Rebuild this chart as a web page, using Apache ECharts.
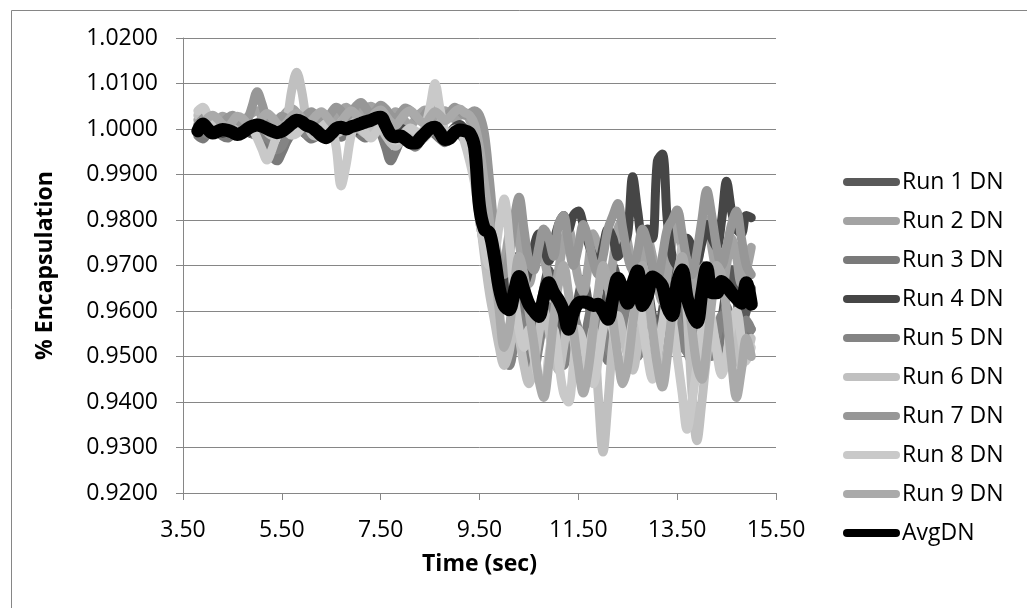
<!DOCTYPE html>
<html><head><meta charset="utf-8">
<script src="https://cdn.jsdelivr.net/npm/echarts@6/dist/echarts.min.js"></script>
<style>html,body{margin:0;padding:0;background:#fff}#c{width:1027px;height:608px}</style>
</head><body><div id="c"></div>
<script>
const times = [
3.8,3.9,4.0,4.1,4.2,4.3,4.4,4.5,4.6,4.7,
4.8,4.9,5.0,5.1,5.2,5.3,5.4,5.5,5.6,5.7,
5.8,5.9,6.0,6.1,6.2,6.3,6.4,6.5,6.6,6.7,
6.8,6.9,7.0,7.1,7.2,7.3,7.4,7.5,7.6,7.7,
7.8,7.9,8.0,8.1,8.2,8.3,8.4,8.5,8.6,8.7,
8.8,8.9,9.0,9.1,9.2,9.3,9.4,9.5,9.6,9.7,
9.8,9.9,10.0,10.1,10.2,10.3,10.4,10.5,10.6,10.7,
10.8,10.9,11.0,11.1,11.2,11.3,11.4,11.5,11.6,11.7,
11.8,11.9,12.0,12.1,12.2,12.3,12.4,12.5,12.6,12.7,
12.8,12.9,13.0,13.1,13.2,13.3,13.4,13.5,13.6,13.7,
13.8,13.9,14.0,14.1,14.2,14.3,14.4,14.5,14.6,14.7,
14.8,14.9,15.0];

const run1 = [
0.9990,0.9985,0.9995,1.0002,0.9998,0.9992,0.9988,0.9996,1.0004,1.0001,
0.9994,0.9989,0.9997,1.0006,1.0010,1.0003,0.9996,0.9990,0.9998,1.0008,
1.0014,1.0010,1.0001,0.9994,0.9990,0.9986,0.9994,1.0004,1.0009,1.0002,
0.9995,1.0001,1.0011,1.0006,0.9998,1.0007,1.0018,1.0022,1.0004,0.9990,
0.9984,0.9992,0.9986,0.9976,0.9968,0.9979,0.9993,1.0006,1.0012,0.9999,
0.9985,0.9979,0.9990,1.0002,0.9998,0.9990,0.9940,0.9850,0.9760,0.9700,
0.9640,0.9580,0.9530,0.9560,0.9620,0.9660,0.9620,0.9570,0.9540,0.9590,
0.9650,0.9690,0.9640,0.9580,0.9530,0.9500,0.9560,0.9630,0.9670,0.9620,
0.9570,0.9540,0.9590,0.9650,0.9700,0.9660,0.9600,0.9560,0.9610,0.9680,
0.9720,0.9660,0.9590,0.9550,0.9600,0.9670,0.9710,0.9650,0.9580,0.9540,
0.9600,0.9660,0.9700,0.9640,0.9570,0.9530,0.9580,0.9650,0.9690,0.9630,
0.9570,0.9600,0.9650];

const run2 = [
1.0020,1.0032,1.0025,1.0012,1.0018,1.0028,1.0022,1.0010,1.0004,1.0015,
1.0026,1.0035,1.0040,1.0028,1.0015,1.0006,1.0012,1.0024,1.0038,1.0045,
1.0036,1.0022,1.0014,1.0020,1.0030,1.0024,1.0010,1.0018,1.0032,1.0040,
1.0048,1.0038,1.0026,1.0034,1.0045,1.0050,1.0042,1.0030,1.0018,1.0026,
1.0038,1.0030,1.0016,1.0008,1.0020,1.0034,1.0042,1.0032,1.0020,1.0028,
1.0040,1.0032,1.0022,1.0030,1.0036,1.0020,0.9990,0.9920,0.9830,0.9760,
0.9700,0.9660,0.9700,0.9770,0.9800,0.9750,0.9690,0.9660,0.9710,0.9760,
0.9720,0.9670,0.9640,0.9690,0.9750,0.9780,0.9730,0.9670,0.9640,0.9700,
0.9770,0.9740,0.9680,0.9650,0.9710,0.9780,0.9800,0.9750,0.9690,0.9650,
0.9700,0.9760,0.9720,0.9660,0.9620,0.9680,0.9750,0.9790,0.9740,0.9670,
0.9630,0.9690,0.9760,0.9800,0.9740,0.9680,0.9640,0.9700,0.9760,0.9720,
0.9660,0.9690,0.9740];

const run3 = [
0.9985,0.9978,0.9990,1.0000,0.9994,0.9984,0.9980,0.9988,0.9998,1.0006,
1.0000,0.9990,0.9984,0.9978,0.9960,0.9940,0.9930,0.9948,0.9972,0.9990,
1.0002,0.9996,0.9986,0.9978,0.9984,0.9996,1.0008,1.0000,0.9990,0.9982,
0.9990,1.0002,0.9996,0.9986,0.9980,0.9992,1.0004,0.9990,0.9960,0.9930,
0.9950,0.9974,0.9984,0.9976,0.9966,0.9972,0.9986,0.9996,0.9988,0.9978,
0.9970,0.9980,0.9994,0.9988,0.9976,0.9960,0.9900,0.9800,0.9740,0.9690,
0.9620,0.9540,0.9490,0.9510,0.9580,0.9620,0.9570,0.9510,0.9490,0.9540,
0.9600,0.9560,0.9500,0.9470,0.9530,0.9590,0.9550,0.9500,0.9520,0.9580,
0.9620,0.9570,0.9520,0.9490,0.9540,0.9600,0.9630,0.9580,0.9520,0.9500,
0.9550,0.9610,0.9580,0.9520,0.9490,0.9540,0.9600,0.9620,0.9560,0.9510,
0.9490,0.9550,0.9610,0.9580,0.9520,0.9500,0.9560,0.9610,0.9570,0.9510,
0.9500,0.9540,0.9560];

const run4 = [
0.9992,1.0002,1.0010,1.0004,0.9996,0.9990,0.9996,1.0006,1.0012,1.0006,
0.9998,0.9992,1.0000,1.0008,1.0004,0.9996,0.9990,0.9998,1.0010,1.0016,
1.0010,1.0002,0.9996,1.0002,1.0010,1.0004,0.9994,0.9988,0.9996,1.0006,
1.0012,1.0004,0.9996,1.0004,1.0014,1.0020,1.0012,1.0002,0.9994,0.9986,
0.9992,1.0002,0.9996,0.9984,0.9978,0.9986,0.9998,1.0008,1.0002,0.9990,
0.9984,0.9992,1.0004,1.0010,1.0000,0.9990,0.9950,0.9880,0.9800,0.9740,
0.9700,0.9660,0.9640,0.9680,0.9720,0.9700,0.9660,0.9690,0.9740,0.9770,
0.9740,0.9710,0.9750,0.9790,0.9810,0.9780,0.9810,0.9820,0.9790,0.9750,
0.9720,0.9700,0.9740,0.9780,0.9760,0.9720,0.9740,0.9770,0.9895,0.9820,
0.9760,0.9780,0.9760,0.9930,0.9945,0.9800,0.9720,0.9700,0.9730,0.9760,
0.9740,0.9710,0.9750,0.9790,0.9760,0.9740,0.9800,0.9885,0.9820,0.9780,
0.9770,0.9810,0.9805];

const run5 = [
1.0004,0.9996,0.9988,0.9994,1.0004,1.0010,1.0002,0.9994,0.9990,0.9998,
1.0008,1.0004,0.9994,0.9986,0.9980,0.9970,0.9955,0.9962,0.9985,1.0000,
1.0006,0.9996,0.9988,0.9994,1.0004,1.0012,1.0004,0.9994,0.9988,0.9996,
1.0006,1.0014,1.0006,0.9996,1.0004,1.0014,1.0010,0.9998,0.9984,0.9976,
0.9982,0.9990,0.9982,0.9968,0.9960,0.9972,0.9988,0.9998,0.9992,0.9982,
0.9976,0.9986,0.9998,0.9992,0.9984,0.9970,0.9920,0.9830,0.9760,0.9700,
0.9630,0.9560,0.9500,0.9480,0.9530,0.9590,0.9560,0.9500,0.9470,0.9520,
0.9580,0.9610,0.9560,0.9510,0.9480,0.9530,0.9590,0.9560,0.9510,0.9490,
0.9540,0.9600,0.9570,0.9520,0.9500,0.9550,0.9610,0.9580,0.9530,0.9500,
0.9550,0.9600,0.9570,0.9520,0.9490,0.9540,0.9600,0.9580,0.9530,0.9510,
0.9560,0.9610,0.9580,0.9530,0.9500,0.9540,0.9590,0.9560,0.9520,0.9500,
0.9540,0.9580,0.9560];

const run6 = [
1.0030,1.0040,1.0022,1.0006,0.9996,1.0004,1.0016,1.0010,0.9998,0.9990,
0.9996,1.0008,1.0014,1.0006,0.9994,0.9986,0.9990,1.0002,1.0020,1.0085,
1.0125,1.0085,1.0020,0.9990,0.9984,0.9996,1.0008,1.0000,0.9990,0.9996,
1.0008,1.0016,1.0008,0.9998,0.9990,0.9996,1.0008,1.0002,0.9986,0.9970,
0.9962,0.9974,0.9988,0.9994,0.9986,0.9976,0.9982,0.9994,1.0002,0.9994,
0.9986,0.9990,1.0000,0.9994,0.9980,0.9960,0.9900,0.9810,0.9720,0.9640,
0.9580,0.9520,0.9480,0.9510,0.9570,0.9540,0.9480,0.9440,0.9480,0.9550,
0.9600,0.9560,0.9500,0.9470,0.9520,0.9580,0.9540,0.9480,0.9450,0.9500,
0.9560,0.9420,0.9290,0.9400,0.9530,0.9590,0.9550,0.9500,0.9470,0.9520,
0.9580,0.9610,0.9560,0.9500,0.9460,0.9510,0.9570,0.9620,0.9740,0.9600,
0.9420,0.9315,0.9400,0.9500,0.9560,0.9520,0.9470,0.9500,0.9560,0.9530,
0.9480,0.9500,0.9540];

const run7 = [
1.0010,1.0022,1.0030,1.0020,1.0008,1.0014,1.0024,1.0030,1.0020,1.0012,
1.0020,1.0050,1.0082,1.0055,1.0020,1.0006,1.0016,1.0028,1.0022,1.0010,
1.0004,1.0016,1.0030,1.0038,1.0028,1.0016,1.0022,1.0036,1.0048,1.0040,
1.0026,1.0036,1.0050,1.0058,1.0046,1.0032,1.0040,1.0052,1.0044,1.0030,
1.0022,1.0034,1.0046,1.0040,1.0028,1.0020,1.0032,1.0046,1.0050,1.0038,
1.0028,1.0036,1.0048,1.0040,1.0030,1.0034,1.0040,1.0030,0.9990,0.9890,
0.9780,0.9700,0.9680,0.9720,0.9800,0.9850,0.9780,0.9710,0.9690,0.9740,
0.9780,0.9760,0.9720,0.9790,0.9810,0.9750,0.9700,0.9740,0.9790,0.9760,
0.9710,0.9680,0.9720,0.9780,0.9810,0.9836,0.9780,0.9720,0.9690,0.9730,
0.9780,0.9750,0.9700,0.9670,0.9720,0.9780,0.9800,0.9822,0.9770,0.9710,
0.9680,0.9730,0.9800,0.9865,0.9810,0.9740,0.9700,0.9740,0.9790,0.9820,
0.9760,0.9700,0.9680];

const run8 = [
1.0040,1.0048,1.0030,1.0010,1.0000,1.0008,1.0002,0.9992,0.9986,0.9994,
1.0004,1.0000,0.9980,0.9955,0.9932,0.9955,0.9985,1.0000,0.9994,0.9986,
0.9990,1.0002,1.0010,1.0004,0.9996,1.0004,1.0012,1.0004,0.9960,0.9875,
0.9920,0.9985,1.0010,1.0002,0.9990,0.9980,0.9992,1.0004,0.9996,0.9982,
0.9974,0.9982,0.9994,1.0002,0.9996,0.9990,1.0006,1.0050,1.0100,1.0045,
0.9996,0.9984,0.9990,1.0000,0.9970,0.9930,0.9880,0.9800,0.9740,0.9700,
0.9720,0.9790,0.9846,0.9760,0.9640,0.9560,0.9520,0.9560,0.9500,0.9450,
0.9430,0.9500,0.9560,0.9490,0.9420,0.9400,0.9480,0.9560,0.9530,0.9470,
0.9440,0.9490,0.9560,0.9600,0.9560,0.9500,0.9460,0.9510,0.9580,0.9620,
0.9570,0.9500,0.9450,0.9500,0.9570,0.9620,0.9580,0.9500,0.9420,0.9340,
0.9400,0.9480,0.9560,0.9620,0.9580,0.9510,0.9460,0.9500,0.9570,0.9600,
0.9540,0.9490,0.9520];

const run9 = [
1.0000,1.0012,1.0024,1.0030,1.0022,1.0010,1.0004,1.0016,1.0028,1.0024,
1.0012,1.0002,1.0010,1.0024,1.0034,1.0026,1.0012,1.0004,1.0014,1.0028,
1.0034,1.0024,1.0012,1.0018,1.0030,1.0038,1.0028,1.0014,1.0006,1.0016,
1.0030,1.0040,1.0032,1.0018,1.0010,1.0022,1.0036,1.0042,1.0030,1.0016,
1.0008,1.0020,1.0034,1.0040,1.0030,1.0018,1.0012,1.0026,1.0038,1.0030,
1.0018,1.0026,1.0038,1.0044,1.0036,1.0030,1.0010,0.9960,0.9880,0.9800,
0.9700,0.9600,0.9520,0.9560,0.9650,0.9720,0.9680,0.9600,0.9530,0.9450,
0.9410,0.9480,0.9580,0.9660,0.9700,0.9640,0.9560,0.9480,0.9420,0.9470,
0.9560,0.9640,0.9700,0.9660,0.9580,0.9500,0.9440,0.9480,0.9570,0.9650,
0.9700,0.9650,0.9560,0.9480,0.9433,0.9500,0.9600,0.9680,0.9720,0.9650,
0.9560,0.9480,0.9450,0.9520,0.9620,0.9700,0.9680,0.9600,0.9490,0.9410,
0.9470,0.9540,0.9500];

const avgDN = [
0.9996,1.0011,1.0000,0.9991,0.9995,0.9999,0.9997,0.9993,0.9988,0.9992,
1.0000,1.0006,1.0009,1.0006,1.0001,0.9996,0.9992,0.9995,1.0003,1.0012,
1.0019,1.0016,1.0008,1.0004,0.9996,0.9986,0.9981,0.9990,1.0001,1.0004,
1.0000,1.0005,1.0008,1.0012,1.0016,1.0019,1.0024,1.0026,1.0008,0.9988,
0.9983,0.9985,0.9978,0.9970,0.9969,0.9980,0.9991,1.0001,1.0004,0.9992,
0.9977,0.9980,0.9992,0.9998,0.9996,0.9991,0.9960,0.9830,0.9780,0.9772,
0.9720,0.9650,0.9612,0.9603,0.9640,0.9676,0.9645,0.9615,0.9600,0.9588,
0.9630,0.9662,0.9640,0.9624,0.9600,0.9560,0.9598,0.9617,0.9620,0.9618,
0.9612,0.9615,0.9600,0.9582,0.9630,0.9672,0.9645,0.9617,0.9660,0.9688,
0.9612,0.9635,0.9675,0.9668,0.9655,0.9610,0.9590,0.9660,0.9690,0.9630,
0.9595,0.9575,0.9640,0.9695,0.9640,0.9640,0.9665,0.9655,0.9640,0.9628,
0.9617,0.9662,0.9615];

const seriesNames = ['Run 1 DN','Run 2 DN','Run 3 DN','Run 4 DN','Run 5 DN','Run 6 DN','Run 7 DN','Run 8 DN','Run 9 DN','AvgDN'];
const seriesValues = [run1, run2, run3, run4, run5, run6, run7, run8, run9, avgDN];
const seriesColors = ['#595959','#a3a3a3','#7a7a7a','#464646','#848484','#c0c0c0','#979797','#c9c9c9','#aaaaaa','#000000'];

const FONT = '"Open Sans", "Noto Sans", sans-serif';
const FS = 23;
const AXIS_GRAY = '#868686';
const ICON = 'path://M4 0H53A4 4 0 0 1 53 8H4A4 4 0 0 1 4 0Z';

const chart = echarts.init(document.getElementById('c'), null, {renderer: 'canvas'});
const series = seriesNames.map((name, k) => ({
  name: name,
  type: 'line',
  data: times.map((t, i) => [t, seriesValues[k][i]]),
  showSymbol: false,
  symbol: 'none',
  smooth: 0.35,
  color: seriesColors[k],
  lineStyle: {width: k === 9 ? 13 : 9, color: seriesColors[k], cap: 'round', join: 'round'},
  z: 2 + k,
  animation: false
}));

chart.setOption({
  backgroundColor: '#ffffff',
  animation: false,
  textStyle: {fontFamily: FONT},
  graphic: [{
    type: 'rect', left: 9, top: 8, silent: true,
    shape: {x: 0.5, y: 0.5, width: 1040, height: 640},
    style: {fill: 'none', stroke: AXIS_GRAY, lineWidth: 1}
  }],
  grid: {left: 183, right: 251, top: 38, bottom: 115, containLabel: false},
  xAxis: {
    type: 'value', min: 3.5, max: 15.5, interval: 2,
    axisLine: {show: true, onZero: false, lineStyle: {color: AXIS_GRAY, width: 1}},
    axisTick: {show: true, inside: false, length: 7, lineStyle: {color: AXIS_GRAY}},
    splitLine: {show: false},
    axisLabel: {formatter: v => v.toFixed(2), color: '#000', fontSize: FS, fontFamily: FONT, margin: 26},
    name: 'Time (sec)', nameLocation: 'middle', nameGap: 60,
    nameTextStyle: {fontWeight: 'bold', fontSize: FS, color: '#000', fontFamily: FONT}
  },
  yAxis: {
    type: 'value', min: 0.92, max: 1.02, interval: 0.01,
    axisLine: {show: true, lineStyle: {color: AXIS_GRAY, width: 1}},
    axisTick: {show: true, inside: false, length: 7, lineStyle: {color: AXIS_GRAY}},
    splitLine: {show: true, lineStyle: {color: AXIS_GRAY, width: 1}},
    axisLabel: {formatter: v => v.toFixed(4), color: '#000', fontSize: FS, fontFamily: FONT, margin: 25},
    name: '% Encapsulation', nameLocation: 'middle', nameGap: 126,
    nameTextStyle: {fontWeight: 'bold', fontSize: FS, color: '#000', fontFamily: FONT}
  },
  legend: {
    orient: 'vertical', left: 843, top: 167, padding: 0,
    itemWidth: 57, itemHeight: 9, itemGap: 9,
    icon: ICON,
    textStyle: {fontSize: FS, color: '#000', fontFamily: FONT, padding: [0,0,0,-3], lineHeight: 30},
    data: seriesNames
  },
  series: series
});
</script>
</body></html>
